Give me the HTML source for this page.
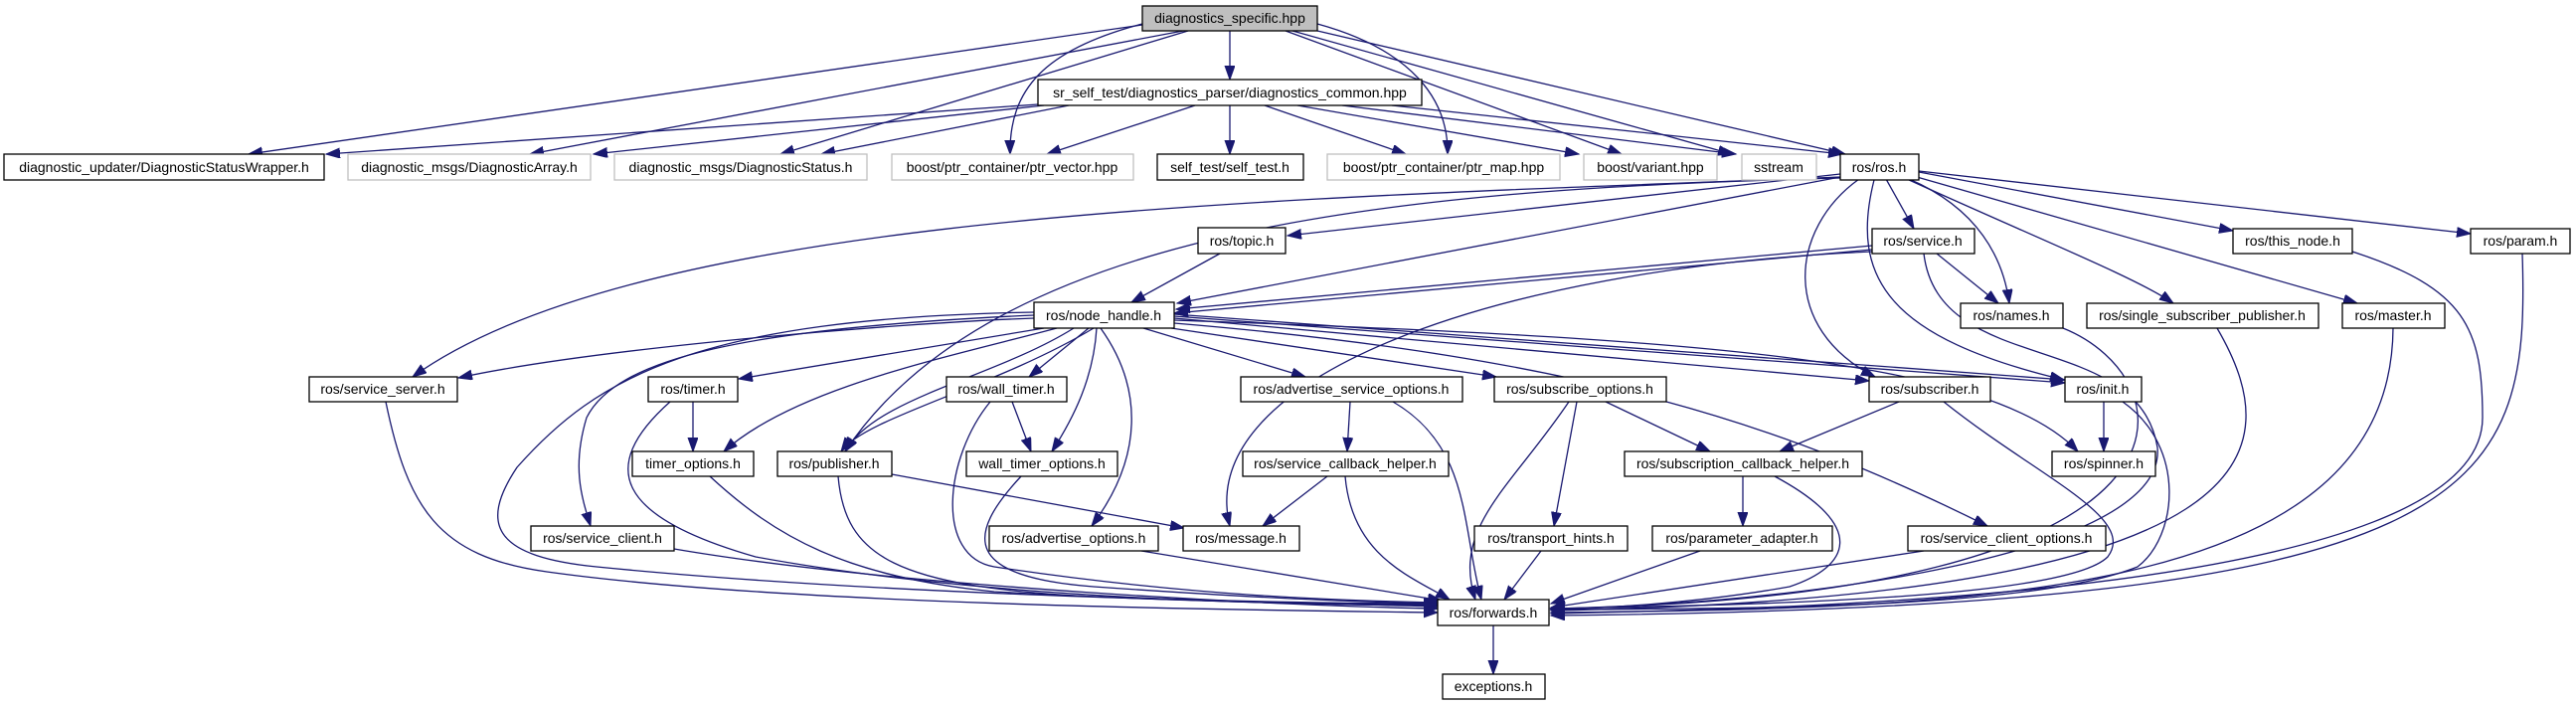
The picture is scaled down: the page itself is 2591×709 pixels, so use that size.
<!DOCTYPE html>
<html><head><meta charset="utf-8"><style>
html,body{margin:0;padding:0;background:#fff;}
svg{display:block;}
text{font-family:"Liberation Sans",sans-serif;font-size:14px;fill:#000;}
.n rect{fill:#fff;stroke:#000;stroke-width:1.3;}
.g rect{fill:#fff;stroke:#bfbfbf;stroke-width:1.3;}
.e path{fill:none;stroke:#191970;stroke-width:1.3;marker-end:url(#a);}
</style></head><body>
<svg width="2591" height="709" viewBox="0 0 2591 709" xmlns="http://www.w3.org/2000/svg">
<defs><marker id="a" markerUnits="userSpaceOnUse" markerWidth="16" markerHeight="12" refX="14" refY="5" orient="auto"><path d="M0,0 L14,5 L0,10 z" fill="#191970" stroke="#191970"/></marker></defs>
<g class="e">
<!-- DS -->
<path d="M1149,25 L250,155"/>
<path d="M1190,31 L533,155"/>
<path d="M1195,31 L785,155"/>
<path d="M1149,24 C1050,50 1015,90 1016,155"/>
<path d="M1237,31 L1237,80"/>
<path d="M1325,24 C1420,50 1457,100 1456,155"/>
<path d="M1293,31 L1631,155"/>
<path d="M1300,31 L1742,155"/>
<path d="M1325,31 L1856,155"/>
<!-- DC -->
<path d="M1044,105 L328,155"/>
<path d="M1050,106 L597,155"/>
<path d="M1075,106 L826,155"/>
<path d="M1202,106 L1053,155"/>
<path d="M1237,106 L1237,155"/>
<path d="M1272,106 L1414,155"/>
<path d="M1305,106 L1588,155"/>
<path d="M1350,106 L1746,155"/>
<path d="M1400,106 L1853,155"/>
<!-- ros.h -->
<path d="M1851,178 C1300,200 650,210 415,379"/>
<path d="M1851,179 C1400,190 1000,230 850,454"/>
<path d="M1851,175 L1295,237"/>
<path d="M1851,178 L1184,305"/>
<path d="M1897,180 L1925,230"/>
<path d="M1920,180 C1990,210 2015,260 2021,305"/>
<path d="M1870,180 C1800,230 1790,330 1886,379"/>
<path d="M1885,181 C1860,280 1900,340 2076,382"/>
<path d="M1918,180 C2050,240 2150,280 2186,305"/>
<path d="M1928,178 L2371,305"/>
<path d="M1930,173 L2246,232"/>
<path d="M1930,172 L2485,235"/>
<!-- service.h -->
<path d="M1883,247 L1183,311"/>
<path d="M1883,251 L1181,315"/>
<path d="M1948,255 L2010,305"/>
<path d="M1883,253 C1500,270 1200,380 1237,529"/>
<path d="M1935,255 C1950,380 2150,330 2170,450 C2180,560 1800,608 1560,612"/>
<path d="M1227,255 L1138,304"/>
<!-- right side to forwards -->
<path d="M2366,253 C2480,290 2497,330 2497,420 C2497,600 1800,612 1560,617"/>
<path d="M2537,255 C2545,500 2500,610 1560,619"/>
<path d="M2407,330 C2405,600 2000,612 1560,616"/>
<path d="M2230,330 C2300,450 2300,600 1560,614"/>
<path d="M2075,330 C2200,380 2250,600 1560,612"/>
<!-- node_handle -->
<path d="M1040,320 C900,325 600,350 461,380"/>
<path d="M1040,314 C700,320 600,380 520,470 C480,530 500,560 600,570 C900,600 1300,606 1446,610"/>
<path d="M1040,317 C750,330 620,360 590,420 C575,470 585,500 594,529"/>
<path d="M1050,330 L743,381"/>
<path d="M1063,330 C950,360 800,390 728,454"/>
<path d="M1080,330 C1000,380 880,400 850,454"/>
<path d="M1100,330 C1000,390 870,420 846,454"/>
<path d="M1095,330 L1035,379"/>
<path d="M1103,330 C1100,380 1080,420 1058,454"/>
<path d="M1107,330 C1150,390 1150,460 1098,529"/>
<path d="M1150,330 L1313,379"/>
<path d="M1178,330 L1505,379"/>
<path d="M1181,320 L1880,383"/>
<path d="M1181,316 L2077,382"/>
<path d="M1181,318 L2077,385"/>
<path d="M1181,322 C1700,340 2000,360 2090,454"/>
<path d="M1181,325 C1600,360 1800,430 1999,529"/>
<!-- lower left -->
<path d="M697,404 L697,454"/>
<path d="M674,404 C600,470 620,520 760,560 C1000,604 1300,608 1446,609"/>
<path d="M714,479 C780,540 850,580 1000,595 C1200,606 1350,608 1446,608"/>
<path d="M678,552 C900,590 1300,610 1446,612"/>
<path d="M388,404 C410,510 440,560 550,575 C800,610 1300,614 1446,616"/>
<path d="M897,477 L1191,531"/>
<path d="M843,479 C850,560 900,590 1100,600 C1300,607 1400,607 1446,607"/>
<path d="M1018,404 L1037,454"/>
<path d="M996,404 C950,460 940,560 1000,570 C1200,600 1350,604 1446,606"/>
<path d="M1027,479 C970,540 970,580 1100,590 C1300,604 1400,606 1446,607"/>
<path d="M1148,554 L1450,604"/>
<path d="M1358,404 L1355,454"/>
<path d="M1401,404 C1480,450 1470,530 1490,603"/>
<path d="M1335,479 L1270,529"/>
<path d="M1353,479 C1360,560 1420,580 1458,603"/>
<path d="M1578,404 C1520,490 1460,530 1484,603"/>
<path d="M1586,404 L1563,529"/>
<path d="M1615,404 L1720,454"/>
<path d="M1550,554 L1513,603"/>
<path d="M1910,404 L1790,454"/>
<path d="M1955,404 C2050,480 2150,520 2120,560 C2080,600 1800,608 1560,612"/>
<path d="M2116,404 L2116,454"/>
<path d="M2135,404 C2200,450 2190,540 2150,570 C2050,610 1800,612 1560,613"/>
<path d="M1753,479 L1753,529"/>
<path d="M1785,479 C1880,530 1860,570 1800,590 C1700,608 1600,612 1560,613"/>
<path d="M1710,554 L1560,607"/>
<path d="M1935,554 L1560,611"/>
<path d="M1502,629 L1502,678"/>
</g>
<g text-anchor="middle">
<g class="n"><rect x="1149" y="6" width="176" height="25" style="fill:#bfbfbf"/><text x="1237" y="23">diagnostics_specific.hpp</text></g>
<g class="n"><rect x="1044" y="80" width="386" height="26"/><text x="1237" y="98">sr_self_test/diagnostics_parser/diagnostics_common.hpp</text></g>
<g class="n"><rect x="4" y="155" width="322" height="26"/><text x="165" y="173">diagnostic_updater/DiagnosticStatusWrapper.h</text></g>
<g class="g"><rect x="350" y="155" width="244" height="26"/><text x="472" y="173">diagnostic_msgs/DiagnosticArray.h</text></g>
<g class="g"><rect x="618" y="155" width="254" height="26"/><text x="745" y="173">diagnostic_msgs/DiagnosticStatus.h</text></g>
<g class="g"><rect x="897" y="155" width="243" height="26"/><text x="1018" y="173">boost/ptr_container/ptr_vector.hpp</text></g>
<g class="n"><rect x="1164" y="155" width="147" height="26"/><text x="1237" y="173">self_test/self_test.h</text></g>
<g class="g"><rect x="1335" y="155" width="234" height="26"/><text x="1452" y="173">boost/ptr_container/ptr_map.hpp</text></g>
<g class="g"><rect x="1593" y="155" width="134" height="26"/><text x="1660" y="173">boost/variant.hpp</text></g>
<g class="g"><rect x="1752" y="155" width="75" height="26"/><text x="1789" y="173">sstream</text></g>
<g class="n"><rect x="1851" y="155" width="79" height="26"/><text x="1890" y="173">ros/ros.h</text></g>
<g class="n"><rect x="1205" y="229" width="88" height="26"/><text x="1249" y="247">ros/topic.h</text></g>
<g class="n"><rect x="1883" y="230" width="103" height="25"/><text x="1934" y="247">ros/service.h</text></g>
<g class="n"><rect x="2246" y="230" width="120" height="25"/><text x="2306" y="247">ros/this_node.h</text></g>
<g class="n"><rect x="2485" y="230" width="100" height="25"/><text x="2535" y="247">ros/param.h</text></g>
<g class="n"><rect x="1040" y="304" width="141" height="26"/><text x="1110" y="322">ros/node_handle.h</text></g>
<g class="n"><rect x="1972" y="305" width="103" height="25"/><text x="2023" y="322">ros/names.h</text></g>
<g class="n"><rect x="2099" y="305" width="233" height="25"/><text x="2215" y="322">ros/single_subscriber_publisher.h</text></g>
<g class="n"><rect x="2356" y="305" width="103" height="25"/><text x="2407" y="322">ros/master.h</text></g>
<g class="n"><rect x="311" y="379" width="149" height="25"/><text x="385" y="396">ros/service_server.h</text></g>
<g class="n"><rect x="652" y="379" width="90" height="25"/><text x="697" y="396">ros/timer.h</text></g>
<g class="n"><rect x="952" y="379" width="121" height="25"/><text x="1012" y="396">ros/wall_timer.h</text></g>
<g class="n"><rect x="1248" y="379" width="223" height="25"/><text x="1359" y="396">ros/advertise_service_options.h</text></g>
<g class="n"><rect x="1503" y="379" width="173" height="25"/><text x="1589" y="396">ros/subscribe_options.h</text></g>
<g class="n"><rect x="1880" y="379" width="122" height="25"/><text x="1941" y="396">ros/subscriber.h</text></g>
<g class="n"><rect x="2077" y="379" width="77" height="25"/><text x="2115" y="396">ros/init.h</text></g>
<g class="n"><rect x="636" y="454" width="122" height="25"/><text x="697" y="471">timer_options.h</text></g>
<g class="n"><rect x="782" y="454" width="115" height="25"/><text x="839" y="471">ros/publisher.h</text></g>
<g class="n"><rect x="972" y="454" width="152" height="25"/><text x="1048" y="471">wall_timer_options.h</text></g>
<g class="n"><rect x="1250" y="454" width="207" height="25"/><text x="1353" y="471">ros/service_callback_helper.h</text></g>
<g class="n"><rect x="1634" y="454" width="239" height="25"/><text x="1753" y="471">ros/subscription_callback_helper.h</text></g>
<g class="n"><rect x="2064" y="454" width="104" height="25"/><text x="2116" y="471">ros/spinner.h</text></g>
<g class="n"><rect x="534" y="529" width="144" height="25"/><text x="606" y="546">ros/service_client.h</text></g>
<g class="n"><rect x="995" y="529" width="170" height="25"/><text x="1080" y="546">ros/advertise_options.h</text></g>
<g class="n"><rect x="1190" y="529" width="117" height="25"/><text x="1248" y="546">ros/message.h</text></g>
<g class="n"><rect x="1483" y="529" width="154" height="25"/><text x="1560" y="546">ros/transport_hints.h</text></g>
<g class="n"><rect x="1662" y="529" width="181" height="25"/><text x="1752" y="546">ros/parameter_adapter.h</text></g>
<g class="n"><rect x="1919" y="529" width="199" height="25"/><text x="2018" y="546">ros/service_client_options.h</text></g>
<g class="n"><rect x="1446" y="603" width="112" height="26"/><text x="1502" y="621">ros/forwards.h</text></g>
<g class="n"><rect x="1451" y="678" width="103" height="25"/><text x="1502" y="695">exceptions.h</text></g>
</g>
</svg>
</body></html>
